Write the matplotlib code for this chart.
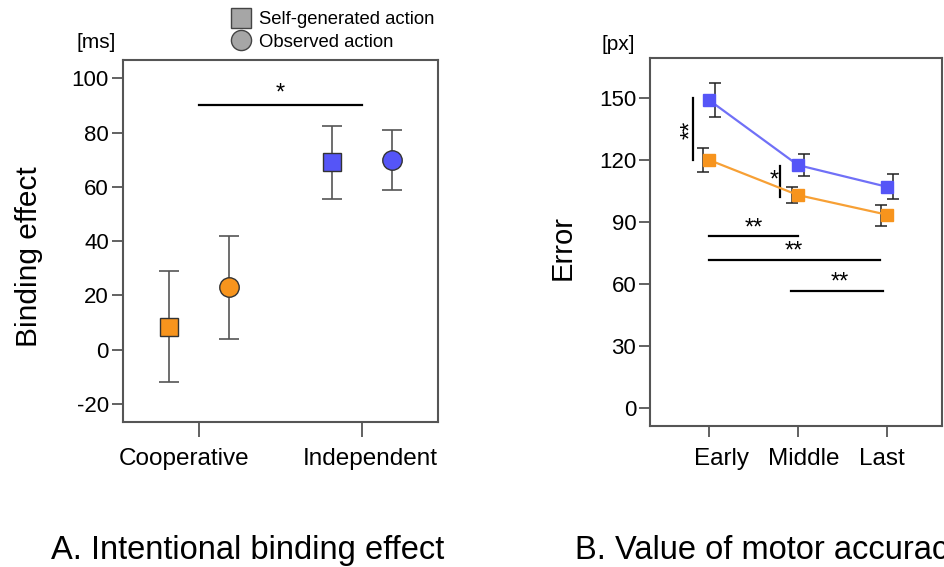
import matplotlib
matplotlib.use('Agg')
import matplotlib.pyplot as plt
import matplotlib.transforms as mtransforms
from matplotlib.lines import Line2D

plt.rcParams['font.family'] = ['Liberation Sans', 'DejaVu Sans']
plt.rcParams['axes.unicode_minus'] = False

# Panel A data
conditions = ['Cooperative', 'Independent']
self_mean = [8.5, 69.0]
self_low = [-12.0, 55.5]
self_high = [29.0, 82.5]
obs_mean = [23.0, 70.0]
obs_low = [4.0, 59.0]
obs_high = [42.0, 81.0]
cond_colors = ['#F7941D', '#5555F7']

# Panel B data
phases = ['Early', 'Middle', 'Last']
blue_err = [149.0, 117.5, 107.0]
blue_low = [141.0, 112.0, 101.0]
blue_high = [157.0, 123.0, 113.0]
orange_err = [120.0, 103.0, 93.5]
orange_low = [114.0, 99.0, 88.0]
orange_high = [126.0, 107.0, 98.0]

ORANGE = '#F7941D'
BLUE = '#5555F7'
SPINE = '#555555'
STAR_FS = 17

fig = plt.figure(figsize=(9.45, 5.67), dpi=100, facecolor='white')


def style_axes(ax, xtick_len):
    for s in ax.spines.values():
        s.set_color(SPINE)
        s.set_linewidth(1.5)
    ax.tick_params(axis='y', length=8, width=1.3, color=SPINE, labelsize=16, pad=2)
    ax.tick_params(axis='x', length=xtick_len, width=1.3, color=SPINE, labelsize=17.5, pad=8)


def nudge_labels(ax, shifts):
    # shift x tick labels sideways by a few pixels, like the original layout
    for lab, dx in zip(ax.get_xticklabels(), shifts):
        lab.set_transform(lab.get_transform() +
                          mtransforms.ScaledTranslation(dx / 100, 0, fig.dpi_scale_trans))


# ---------- Panel A ----------
axA = fig.add_axes([0.130, 0.2557, 0.3335, 0.638])
off = 0.184
xs = list(range(len(conditions)))
for i in xs:
    axA.errorbar(i - off, self_mean[i],
                 yerr=[[self_mean[i] - self_low[i]], [self_high[i] - self_mean[i]]],
                 fmt='none', ecolor=SPINE, elinewidth=1.2, capsize=7, capthick=1.2, zorder=2)
    axA.plot(i - off, self_mean[i], marker='s', ms=13, mfc=cond_colors[i],
             mec='#333333', mew=1.0, ls='none', zorder=3)
    axA.errorbar(i + off, obs_mean[i],
                 yerr=[[obs_mean[i] - obs_low[i]], [obs_high[i] - obs_mean[i]]],
                 fmt='none', ecolor=SPINE, elinewidth=1.2, capsize=7, capthick=1.2, zorder=2)
    axA.plot(i + off, obs_mean[i], marker='o', ms=14, mfc=cond_colors[i],
             mec='#333333', mew=1.0, ls='none', zorder=3)

axA.set_xlim(-0.466, 1.466)
axA.set_ylim(-26.6, 106.6)
axA.set_yticks([-20, 0, 20, 40, 60, 80, 100])
axA.set_xticks(xs)
axA.set_xticklabels(conditions)
style_axes(axA, 11)
nudge_labels(axA, [-15, 8])
axA.set_ylabel('Binding effect', fontsize=21.5)
axA.yaxis.set_label_coords(-0.254, 0.456)

# significance
axA.plot([0, 1], [90, 90], color='black', lw=1.6)
axA.text(0.5, 94.5, '*', ha='center', va='center', fontsize=STAR_FS)

fig.text(96 / 945, 1 - 42 / 567, '[ms]', ha='center', va='center', fontsize=15)

handles = [
    Line2D([], [], marker='s', ls='none', ms=14, mfc='#A6A6A6', mec='#444444', mew=1.0),
    Line2D([], [], marker='o', ls='none', ms=14.5, mfc='#A6A6A6', mec='#444444', mew=1.0),
]
fig.legend(handles, ['Self-generated action', 'Observed action'],
           loc='upper left', bbox_to_anchor=(232 / 945, 1 - 11 / 567),
           frameon=False, fontsize=13.3, handlelength=1.0, handletextpad=0.45,
           labelspacing=0.3, borderpad=0, borderaxespad=0)

fig.text(248 / 945, 1 - 550 / 567, 'A. Intentional binding effect',
         ha='center', va='center', fontsize=23.5)

# ---------- Panel B ----------
axB = fig.add_axes([0.688, 0.2487, 0.309, 0.649])
px = list(range(len(phases)))
eo = 0.065
axB.errorbar([p + eo for p in px], blue_err,
             yerr=[[m - l for m, l in zip(blue_err, blue_low)],
                   [h - m for m, h in zip(blue_err, blue_high)]],
             fmt='none', ecolor='#222222', elinewidth=1.1, capsize=4, capthick=1.1, zorder=2)
axB.errorbar([p - eo for p in px], orange_err,
             yerr=[[m - l for m, l in zip(orange_err, orange_low)],
                   [h - m for m, h in zip(orange_err, orange_high)]],
             fmt='none', ecolor='#222222', elinewidth=1.1, capsize=4, capthick=1.1, zorder=2)
axB.plot(px, blue_err, color='#7070F7', lw=1.6, marker='s', ms=9,
         mfc=BLUE, mec=BLUE, zorder=3)
axB.plot(px, orange_err, color='#F7A035', lw=1.6, marker='s', ms=9,
         mfc=ORANGE, mec=ORANGE, zorder=3)

axB.set_xlim(-0.66, 2.62)
axB.set_ylim(-8.7, 169.3)
axB.set_yticks([0, 30, 60, 90, 120, 150])
axB.set_xticks(px)
axB.set_xticklabels(phases)
style_axes(axB, 8)
nudge_labels(axB, [13, 6, -5])
axB.set_ylabel('Error', fontsize=21)
axB.yaxis.set_label_coords(-0.253, 0.486)

# significance marks
axB.plot([-0.18, -0.18], [120, 150], color='black', lw=1.6)
axB.text(-0.20, 134.5, '**', ha='center', va='center', rotation=90, fontsize=STAR_FS)
axB.plot([0.80, 0.80], [102, 117], color='black', lw=1.6)
axB.text(0.73, 110, '*', ha='center', va='center', fontsize=STAR_FS)
axB.plot([0, 1.0], [83, 83], color='black', lw=1.6)
axB.text(0.5, 87, '**', ha='center', va='center', fontsize=STAR_FS)
axB.plot([0, 1.92], [71.5, 71.5], color='black', lw=1.6)
axB.text(0.95, 75.5, '**', ha='center', va='center', fontsize=STAR_FS)
axB.plot([0.92, 1.95], [56.5, 56.5], color='black', lw=1.6)
axB.text(1.47, 60.5, '**', ha='center', va='center', fontsize=STAR_FS)

fig.text(618 / 945, 1 - 45 / 567, '[px]', ha='center', va='center', fontsize=15)
fig.text(575 / 945, 1 - 550 / 567, 'B. Value of motor accuracy',
         ha='left', va='center', fontsize=23.5)

plt.savefig('out.png', dpi=100, facecolor='white')
